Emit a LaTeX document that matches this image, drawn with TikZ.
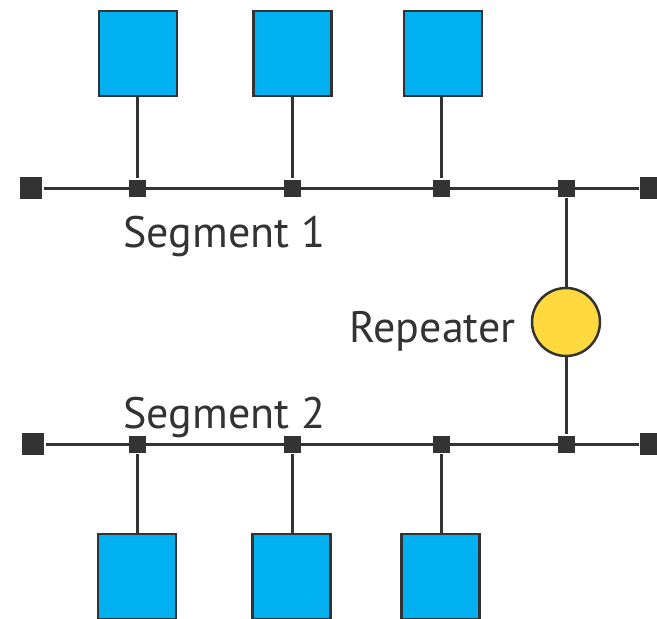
\documentclass[tikz,border=0pt]{standalone}
\usepackage{fontspec}
\setmainfont{PT Sans}
\definecolor{wire}{HTML}{333333}
\definecolor{hostblue}{HTML}{00B0F0}
\definecolor{repyellow}{HTML}{FFD93D}
\begin{document}
\begin{tikzpicture}[x=1pt, y=-1pt,
        line width=3pt, draw=wire,
        host/.style={draw=wire, fill=hostblue, minimum width=78pt, minimum height=85pt, inner sep=0pt, line width=2.5pt},
        tap/.style={fill=wire, minimum size=17pt, inner sep=0pt},
        busend/.style={fill=wire, minimum size=22pt, inner sep=0pt},
        repeater/.style={circle, draw=wire, fill=repyellow, minimum size=68pt, inner sep=0pt, line width=2.5pt},
        label/.style={text=wire, inner sep=0pt, anchor=base west, font=\fontsize{44}{52}\selectfont}]
    \useasboundingbox (0,0) rectangle (657,619);
    \clip (0,0) rectangle (657,619);
    % segment 1
    \node[busend] (e1) at (31,188) {};
    \node[busend] (e2) at (651,188) {};
    \node[tap] (t1) at (137,188) {};
    \node[tap] (t2) at (292,188) {};
    \node[tap] (t3) at (441,188) {};
    \node[tap] (t4) at (566,188) {};
    \draw[wire] (e1) -- (e2);
    \node[host] (b1) at (138,53.5) {};
    \node[host] (b2) at (292.5,53.5) {};
    \node[host] (b3) at (443,53.5) {};
    \draw[wire] (t1) -- (t1 |- b1.south);
    \draw[wire] (t2) -- (t2 |- b2.south);
    \draw[wire] (t3) -- (t3 |- b3.south);
    \node[label] (seg1) at (122,247) {Segment 1};
    % segment 2
    \node[busend] (e3) at (33,444) {};
    \node[busend] (e4) at (651,444) {};
    \node[tap] (t5) at (137,444) {};
    \node[tap] (t6) at (292,444) {};
    \node[tap] (t7) at (441,444) {};
    \node[tap] (t8) at (566,444) {};
    \draw[wire] (e3) -- (e4);
    \node[host] (b4) at (137,576.5) {};
    \node[host] (b5) at (291.5,576.5) {};
    \node[host] (b6) at (440.5,576.5) {};
    \draw[wire] (t5) -- (t5 |- b4.north);
    \draw[wire] (t6) -- (t6 |- b5.north);
    \draw[wire] (t7) -- (t7 |- b6.north);
    \node[label] (seg2) at (122,428) {Segment 2};
    % repeater
    \node[repeater] (rep) at (566,322) {};
    \draw[wire] (t4) -- (rep);
    \draw[wire] (rep) -- (t8);
    \node[label] (replab) at (348,342) {Repeater};
\end{tikzpicture}
\end{document}
